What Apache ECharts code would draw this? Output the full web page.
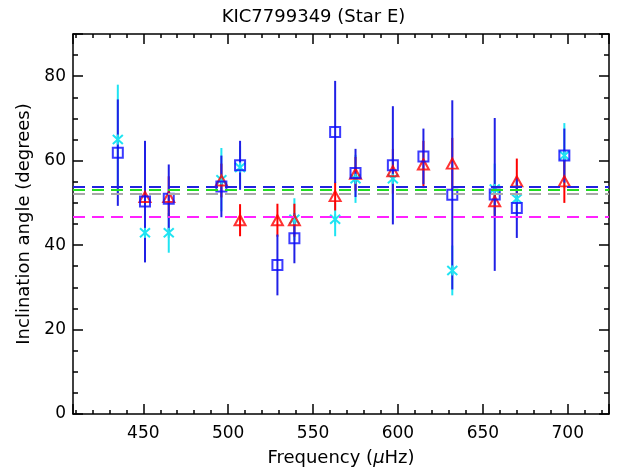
<!DOCTYPE html>
<html>
<head>
<meta charset="utf-8">
<script src="https://cdn.jsdelivr.net/npm/echarts@6/dist/echarts.min.js"></script>
<style>html,body{margin:0;padding:0;background:#fff}#c{width:627px;height:472px}</style>
</head>
<body>
<div id="c"></div>
<script>
// ---- data ----
const titleText = 'KIC7799349 (Star E)';
const xName = '{n|Frequency (}{m|\u03bc}{n|Hz)}';
const yName = 'Inclination angle (degrees)';

const blueFreq  = [435, 451, 465, 496, 507, 529, 539, 563, 575, 597, 615, 632, 657, 670, 698];
const blueAngle = [61.9, 50.3, 51.0, 53.9, 58.9, 35.3, 41.6, 66.8, 57.1, 58.9, 61.0, 51.9, 52.0, 48.8, 61.2];
const blueErr   = [12.6, 14.4, 8.1, 7.3, 5.8, 7.2, 5.9, 12.1, 5.7, 14.0, 6.6, 22.4, 18.1, 7.1, 6.4];

const redFreq  = [451, 465, 496, 507, 529, 539, 563, 575, 597, 615, 632, 657, 670, 698];
const redAngle = [51.4, 51.4, 55.3, 45.9, 45.9, 45.9, 51.6, 56.9, 57.5, 59.1, 59.3, 50.4, 55.1, 55.1];
const redErr   = [4.9, 4.9, 4.0, 3.8, 3.9, 3.9, 3.4, 4.0, 5.3, 5.6, 6.1, 4.0, 5.4, 5.1];

const cyanFreq  = [435, 451, 465, 496, 507, 539, 563, 575, 597, 632, 657, 670, 698];
const cyanAngle = [65.0, 42.9, 42.9, 55.5, 58.4, 46.1, 46.1, 55.7, 55.7, 34.0, 53.3, 51.0, 61.2];
const cyanErr   = [13.0, 5.0, 4.7, 7.5, 5.0, 5.0, 4.0, 5.7, 5.0, 5.9, 6.0, 5.0, 7.7];

const meanLines  = [53.8, 53.1, 52.1, 46.7];
const meanColors = ['#2222e0', '#22dd22', '#a8a8a8', '#ff22ff'];

const xMin = 408.6, xMax = 724.3;
const yMin = 0, yMax = 90;

// ---- styles ----
const FONT = 'DejaVu Sans';
const BLUE = '#0a0aff', BLUE_BAR = '#2020e6', RED = '#ff0000', CYAN = '#1fe4f2';

function barData(f, a, e) { return f.map((x, i) => [x, a[i] - e[i], a[i] + e[i]]); }
function ptData(f, a) { return f.map((x, i) => [x, a[i]]); }

function errSeries(name, f, a, e, color, extra) {
  return Object.assign({
    name: name, type: 'custom', silent: true,
    data: barData(f, a, e),
    encode: { x: 0, y: [1, 2] },
    renderItem: function (params, api) {
      const p1 = api.coord([api.value(0), api.value(1)]);
      const p2 = api.coord([api.value(0), api.value(2)]);
      return { type: 'line', shape: { x1: p1[0], y1: p1[1], x2: p2[0], y2: p2[1] },
               style: { stroke: color, lineWidth: 2 } };
    }
  }, extra || {});
}

const axisCommon = {
  type: 'value',
  axisLine: { show: true, onZero: false, lineStyle: { color: '#000', width: 1.5 } },
  splitLine: { show: false },
  minorSplitLine: { show: false }
};

const chart = echarts.init(document.getElementById('c'), null, { renderer: 'canvas' });
chart.setOption({
  animation: false,
  backgroundColor: '#fff',
  title: { text: titleText, left: 'center', top: 3,
           textStyle: { fontFamily: FONT, fontSize: 18, fontWeight: 'normal', color: '#000' } },
  grid: { left: 73, right: 18, top: 34, bottom: 57 },
  xAxis: [
    Object.assign({}, axisCommon, {
      min: xMin, max: xMax, position: 'bottom',
      axisTick: { show: true, inside: true, length: 10, lineStyle: { color: '#000', width: 1.5 } },
      minorTick: { show: true, splitNumber: 5, length: 4, lineStyle: { color: '#000', width: 1.5 } },
      axisLabel: { show: true, margin: 11, color: '#000', fontFamily: FONT, fontSize: 17,
                   formatter: v => (Math.abs(v % 50) < 1e-6 ? String(v) : '') },
      name: xName, nameLocation: 'middle', nameGap: 35,
      nameTextStyle: { fontFamily: FONT, fontSize: 18, color: '#000',
        rich: { n: { fontFamily: FONT, fontSize: 18, color: '#000' },
                m: { fontFamily: FONT, fontSize: 18, color: '#000', fontStyle: 'italic' } } }
    }),
    Object.assign({}, axisCommon, {
      min: xMin, max: xMax, position: 'top',
      axisTick: { show: true, inside: true, length: 10, lineStyle: { color: '#000', width: 1.5 } },
      minorTick: { show: true, splitNumber: 5, length: 4, lineStyle: { color: '#000', width: 1.5 } },
      axisLabel: { show: false }
    })
  ],
  yAxis: [
    Object.assign({}, axisCommon, {
      min: yMin, max: yMax, interval: 20, position: 'left',
      axisTick: { show: true, inside: true, length: 10, lineStyle: { color: '#000', width: 1.5 } },
      minorTick: { show: true, splitNumber: 4, length: 5, lineStyle: { color: '#000', width: 1.5 } },
      axisLabel: { show: true, margin: 7, color: '#000', fontFamily: FONT, fontSize: 17,
                   formatter: v => (v <= 80 ? String(v) : '') },
      name: yName, nameLocation: 'middle', nameGap: 40,
      nameTextStyle: { fontFamily: FONT, fontSize: 18, color: '#000' }
    }),
    Object.assign({}, axisCommon, {
      min: yMin, max: yMax, interval: 20, position: 'right',
      axisTick: { show: true, inside: true, length: 10, lineStyle: { color: '#000', width: 1.5 } },
      minorTick: { show: true, splitNumber: 4, length: 5, lineStyle: { color: '#000', width: 1.5 } },
      axisLabel: { show: false }
    })
  ],
  series: [
    errSeries('cyanErr', cyanFreq, cyanAngle, cyanErr, CYAN, {
      markLine: {
        silent: true, symbol: 'none', label: { show: false }, animation: false,
        data: meanLines.map((v, i) => ({ yAxis: v,
          lineStyle: { color: meanColors[i], width: 2, type: [12, 7] } }))
      }
    }),
    errSeries('redErr', redFreq, redAngle, redErr, RED),
    errSeries('blueErr', blueFreq, blueAngle, blueErr, BLUE_BAR),
    {
      name: 'cyan', type: 'custom', silent: true,
      data: ptData(cyanFreq, cyanAngle),
      encode: { x: 0, y: 1 },
      renderItem: function (params, api) {
        const c = api.coord([api.value(0), api.value(1)]);
        const w = 5, h = 4.5;
        const st = { stroke: CYAN, lineWidth: 2 };
        return { type: 'group', children: [
          { type: 'line', shape: { x1: c[0] - w, y1: c[1] - h, x2: c[0] + w, y2: c[1] + h }, style: st },
          { type: 'line', shape: { x1: c[0] - w, y1: c[1] + h, x2: c[0] + w, y2: c[1] - h }, style: st },
          { type: 'line', shape: { x1: c[0], y1: c[1] - h - 0.5, x2: c[0], y2: c[1] + h + 0.5 }, style: st }
        ] };
      }
    },
    {
      name: 'red', type: 'scatter', silent: true,
      data: ptData(redFreq, redAngle),
      symbol: 'triangle', symbolSize: [11, 10],
      itemStyle: { color: 'rgba(0,0,0,0)', borderColor: RED, borderWidth: 2 }
    },
    {
      name: 'blue', type: 'scatter', silent: true,
      data: ptData(blueFreq, blueAngle),
      symbol: 'rect', symbolSize: 10,
      itemStyle: { color: 'rgba(0,0,0,0)', borderColor: BLUE, borderWidth: 2 }
    }
  ]
});
</script>
</body>
</html>
